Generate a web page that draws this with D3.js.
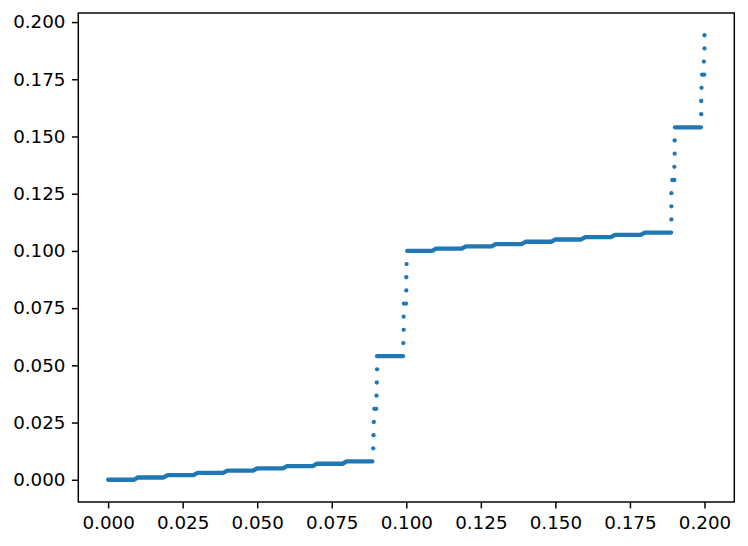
<!DOCTYPE html>
<html>
<head>
<meta charset="utf-8">
<script src="https://cdn.jsdelivr.net/npm/d3@7"></script>
<style>
  html, body { margin: 0; padding: 0; background: #ffffff; }
  svg { display: block; }
</style>
</head>
<body>
<script>
// ---- Data ----
// Small staircase steps: [xStart, xEnd, y]
const lowSteps = [
  [0.0000, 0.0086, 0.000],
  [0.0100, 0.0186, 0.001],
  [0.0200, 0.0286, 0.002],
  [0.0300, 0.0386, 0.003],
  [0.0400, 0.0486, 0.004],
  [0.0500, 0.0586, 0.005],
  [0.0600, 0.0686, 0.006],
  [0.0700, 0.0786, 0.007],
  [0.0800, 0.0886, 0.008]
];
const highSteps = [
  [0.1003, 0.1086, 0.100],
  [0.1100, 0.1186, 0.101],
  [0.1200, 0.1286, 0.102],
  [0.1300, 0.1386, 0.103],
  [0.1400, 0.1486, 0.104],
  [0.1500, 0.1586, 0.105],
  [0.1600, 0.1686, 0.106],
  [0.1700, 0.1786, 0.107],
  [0.1800, 0.1888, 0.108]
];
// Mid-level plateaus: [xStart, xEnd, y]
const plateaus = [
  [0.0902, 0.0989, 0.054],
  [0.1901, 0.1988, 0.154]
];
// Isolated points on the steep rises: [x, y]
const riseDots = [
  [0.0889, 0.01375], [0.0890, 0.0195], [0.0891, 0.02525], [0.0893, 0.0310],
  [0.0899, 0.0310], [0.0900, 0.03675], [0.0901, 0.0425], [0.0902, 0.04825],
  [0.0990, 0.05975], [0.0991, 0.0655], [0.0991, 0.07125], [0.0992, 0.0770],
  [0.0999, 0.0770], [0.1000, 0.08275], [0.1000, 0.0885], [0.1001, 0.09425],
  [0.1889, 0.11375], [0.1889, 0.1195], [0.1889, 0.12525], [0.1892, 0.1310],
  [0.1899, 0.1310], [0.1899, 0.13675], [0.1900, 0.1425], [0.1900, 0.14825],
  [0.1989, 0.15975], [0.1989, 0.1655], [0.1990, 0.17125], [0.1992, 0.1770],
  [0.1999, 0.1770], [0.1998, 0.18275], [0.2000, 0.1885], [0.2000, 0.19425]
];
const xTicks = [0.000, 0.025, 0.050, 0.075, 0.100, 0.125, 0.150, 0.175, 0.200];
const yTicks = [0.000, 0.025, 0.050, 0.075, 0.100, 0.125, 0.150, 0.175, 0.200];

(function () {
  // ---- Layout ----
  const W = 748, H = 546;
  const mLeft = 78.3, mRight = 734.3, mTop = 13, mBottom = 502;
  const color = "#1f77b4";
  const fontSize = 18.3;

  const svg = d3.select("body").append("svg").attr("width", W).attr("height", H);

  const x = d3.scaleLinear().domain([-0.01, 0.21]).range([mLeft, mRight]);
  const yMax = 0.19425, pad = yMax * 0.05;
  const y = d3.scaleLinear().domain([-pad, yMax + pad]).range([mBottom, mTop]);

  const g = svg.append("g");
  const line = d3.line().x(d => x(d[0])).y(d => y(d[1]));
  const dotR = 2.15;

  // Staircase polylines (short ramps between consecutive steps)
  [lowSteps, highSteps].forEach(steps => {
    const pts = [];
    steps.forEach(s => { pts.push([s[0], s[2]]); pts.push([s[1], s[2]]); });
    g.append("path")
      .attr("d", line(pts))
      .attr("fill", "none")
      .attr("stroke", color)
      .attr("stroke-width", dotR * 2)
      .attr("stroke-linecap", "round")
      .attr("stroke-linejoin", "round");
  });

  plateaus.forEach(p => {
    g.append("path")
      .attr("d", line([[p[0], p[2]], [p[1], p[2]]]))
      .attr("fill", "none")
      .attr("stroke", color)
      .attr("stroke-width", dotR * 2)
      .attr("stroke-linecap", "round");
  });

  g.selectAll("circle.dot").data(riseDots).join("circle")
    .attr("class", "dot")
    .attr("cx", d => x(d[0]))
    .attr("cy", d => y(d[1]))
    .attr("r", dotR)
    .attr("fill", color);

  // ---- Axes ----
  const tickLen = 6.4, tickPad = 6.4, lw = 1.47;
  const fmt = d3.format(".3f");

  const xAxis = svg.append("g")
    .attr("transform", `translate(0,${mBottom})`)
    .call(d3.axisBottom(x).tickValues(xTicks).tickFormat(fmt).tickSize(tickLen).tickPadding(tickPad));
  const yAxis = svg.append("g")
    .attr("transform", `translate(${mLeft},0)`)
    .call(d3.axisLeft(y).tickValues(yTicks).tickFormat(fmt).tickSize(tickLen).tickPadding(tickPad));

  [xAxis, yAxis].forEach(a => {
    a.select(".domain").remove();
    a.selectAll(".tick line").attr("stroke", "#000").attr("stroke-width", lw);
    a.selectAll(".tick text")
      .attr("fill", "#000")
      .style("font-family", "'DejaVu Sans', sans-serif")
      .style("font-size", fontSize + "px");
  });
  xAxis.selectAll(".tick text").attr("y", tickLen + tickPad + 1.2);

  // Frame (spines)
  svg.append("rect")
    .attr("x", mLeft).attr("y", mTop)
    .attr("width", mRight - mLeft).attr("height", mBottom - mTop)
    .attr("fill", "none")
    .attr("stroke", "#000")
    .attr("stroke-width", lw);
})();
</script>
</body>
</html>
